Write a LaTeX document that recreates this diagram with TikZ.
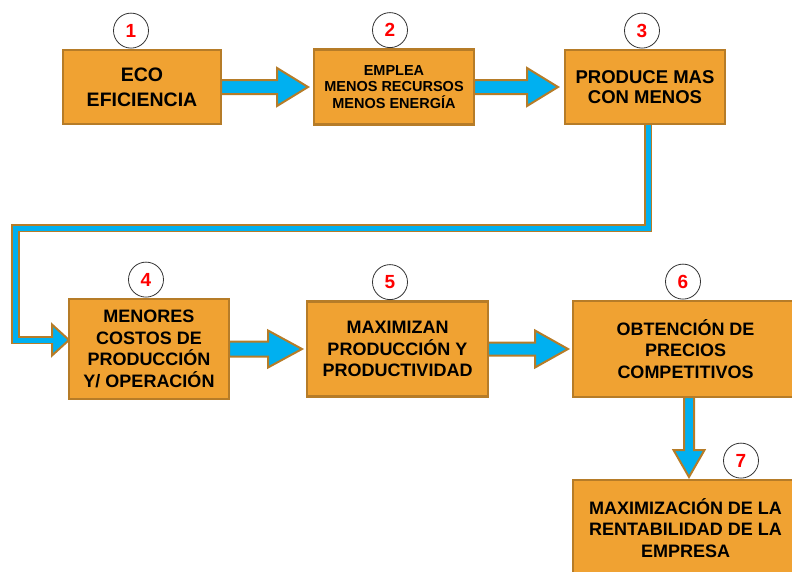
\documentclass[tikz,border=0pt]{standalone}
\usepackage{fontspec}
\setmainfont{Liberation Sans}
\usepackage{xcolor}
\usepackage{tikz}
\usetikzlibrary{positioning, calc, backgrounds}

\definecolor{boxfill}{RGB}{240,162,50}
\definecolor{boxline}{RGB}{182,124,40}
\definecolor{arrowfill}{RGB}{0,176,240}
\definecolor{numred}{RGB}{255,0,0}

% block arrow: start, tip, shaft half width, head half width, head length
\newcommand{\fatarrow}[5]{%
  \coordinate (fa-s) at (#1);
  \coordinate (fa-t) at (#2);
  \coordinate (fa-h) at ($(fa-t)!#5!(fa-s)$);
  \draw[fatline] ($(fa-s)!#3!90:(fa-t)$) -- ($(fa-h)!#3!90:(fa-t)$) -- ($(fa-h)!#4!90:(fa-t)$) -- (fa-t)
    -- ($(fa-h)!#4!-90:(fa-t)$) -- ($(fa-h)!#3!-90:(fa-t)$) -- ($(fa-s)!#3!-90:(fa-t)$) -- cycle;%
}

\begin{document}
\begin{tikzpicture}[x=1pt, y=1pt, >=latex]
    % Styles
    \tikzstyle{block} = [rectangle, draw=boxline, line width=2.5pt, fill=boxfill, align=center, font=\bfseries\fontsize{18}{21.7}\selectfont, inner sep=2pt, outer sep=0pt]
    \tikzstyle{num} = [circle, draw=black!80, line width=0.8pt, fill=white, minimum size=35pt, inner sep=0pt, text=numred, font=\bfseries\fontsize{19}{19}\selectfont]
    \tikzstyle{fatline} = [draw=boxline, line width=2pt, fill=arrowfill, line join=miter]
    \tikzstyle{elbow} = [draw=boxline, line width=8.5pt, line join=miter]
    \tikzstyle{elbowfill} = [draw=arrowfill, line width=5pt, line join=miter]

    \useasboundingbox (0,0) rectangle (792,-571);
    \clip (0,0) rectangle (792,-571);

    % Nodes
    \node [block, minimum width=158pt, minimum height=74pt, font=\bfseries\fontsize{19.5}{25}\selectfont] (b1) at (142,-87) {ECO\\EFICIENCIA};
    \node [block, right=93pt of b1, minimum width=160pt, minimum height=75pt, font=\bfseries\fontsize{14.5}{16.7}\selectfont] (b2) {EMPLEA\\MENOS RECURSOS\\MENOS ENERGÍA};
    \node [block, right=91pt of b2, minimum width=160pt, minimum height=74pt, font=\bfseries\fontsize{18.5}{20}\selectfont] (b3) {PRODUCE MAS\\CON MENOS};
    \node [block, minimum width=160pt, minimum height=100pt] (b4) at (149,-349) {MENORES\\COSTOS DE\\PRODUCCIÓN\\Y/ OPERACIÓN};
    \node [block, right=78pt of b4, minimum width=181pt, minimum height=95pt] (b5) {MAXIMIZAN\\PRODUCCIÓN Y\\PRODUCTIVIDAD};
    \node [block, right=85pt of b5, minimum width=225pt, minimum height=96pt] (b6) {OBTENCIÓN DE\\PRECIOS\\COMPETITIVOS};
    \node [block, below=83pt of b6, minimum width=225pt, minimum height=96pt] (b7) {MAXIMIZACIÓN DE LA\\RENTABILIDAD DE LA\\EMPRESA};

    % Step numbers
    \node [num, above=1.5pt of b1, xshift=-11pt] (n1) {1};
    \node [num, above=1.5pt of b2, xshift=-4pt] (n2) {2};
    \node [num, above=1.5pt of b3, xshift=-3pt] (n3) {3};
    \node [num, above=1.5pt of b4, xshift=-3pt] (n4) {4};
    \node [num, above=1.5pt of b5, xshift=-7.5pt] (n5) {5};
    \node [num, above=1.5pt of b6, xshift=-2.5pt] (n6) {6};
    \node [num, above=1.5pt of b7, xshift=55.5pt] (n7) {7};

    % Edges
    \begin{scope}[on background layer]
        \fatarrow{b1.east}{$(b2.west)+(-6,0)$}{7pt}{19pt}{31pt}
        \fatarrow{b2.east}{$(b3.west)+(-7,0)$}{7pt}{19pt}{31pt}
        \fatarrow{b4.east}{$(b5.west)+(-5,0)$}{7.5pt}{18.5pt}{34pt}
        \fatarrow{b5.east}{$(b6.west)+(-5,0)$}{6.5pt}{18.5pt}{33pt}
        \fatarrow{$(b6.south)+(3.5,0)$}{$(b7.north)+(3.5,3)$}{5pt}{15.5pt}{27pt}

        % return line from 3 to 4
        \coordinate (e0) at ($(b3.south)+(3,0)$);
        \coordinate (e1) at (15.5,-228);
        \coordinate (e3) at ($(b4.west)+(0,9)$);
        \coordinate (e2) at ($(e3)+(-17,0)$);
        \draw [elbow] (e0) |- (e1) |- (e2);
        \draw [fatline] ($(e2)+(0,15.5)$) -- (e3) -- ($(e2)+(0,-15.5)$) -- cycle;
        \draw [elbowfill] (e0) |- (e1) |- ($(e2)+(2,0)$);
    \end{scope}
\end{tikzpicture}
\end{document}
